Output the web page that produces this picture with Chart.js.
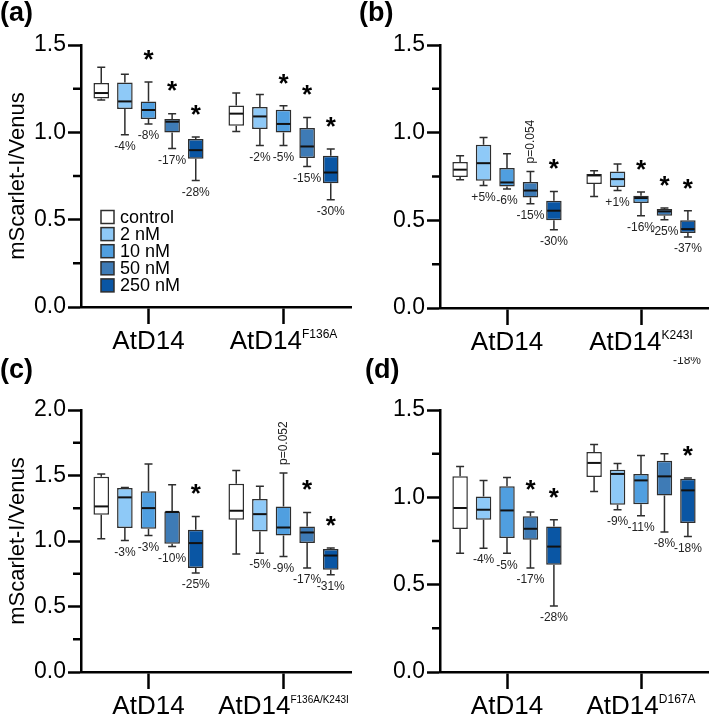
<!DOCTYPE html>
<html>
<head>
<meta charset="utf-8">
<script src="https://cdn.jsdelivr.net/npm/chart.js@4.4.1/dist/chart.umd.min.js"></script>
<style>
  html, body { margin: 0; padding: 0; background: #fff; }
  #wrap { position: relative; width: 709px; height: 714px; }
  canvas { position: absolute; }
</style>
</head>
<body>
<div id="wrap">
  <canvas id="pa" width="354" height="357" style="left:0;top:0"></canvas>
  <canvas id="pb" width="355" height="357" style="left:354px;top:0"></canvas>
  <canvas id="pc" width="354" height="357" style="left:0;top:357px"></canvas>
  <canvas id="pd" width="355" height="357" style="left:354px;top:357px"></canvas>
</div>
<script>
const FONT = "'Liberation Sans', Arial, Helvetica, sans-serif";

const doses = ["control", "2 nM", "10 nM", "50 nM", "250 nM"];
const doseColors = ["#ffffff", "#8ec9f7", "#509fe0", "#3e7bb6", "#0a56a4"];

// box stats for each dose: [min, q1, median, q3, max]
// (a) AtD14 vs AtD14 F136A
const aWT = [
  [1.185, 1.193, 1.225, 1.283, 1.372],
  [0.986, 1.134, 1.177, 1.286, 1.332],
  [1.048, 1.076, 1.128, 1.177, 1.288],
  [0.908, 0.999, 1.061, 1.076, 1.107],
  [0.724, 0.849, 0.898, 0.962, 0.973]
];
const aMut = [
  [1.005, 1.038, 1.107, 1.154, 1.225],
  [0.925, 1.019, 1.091, 1.145, 1.216],
  [0.925, 0.999, 1.048, 1.130, 1.152],
  [0.805, 0.853, 0.919, 1.025, 1.085],
  [0.614, 0.709, 0.770, 0.866, 0.904]
];
const aPct = [["", "-4%", "-8%", "-17%", "-28%"], ["", "-2%", "-5%", "-15%", "-30%"]];
const aStar = [[0, 0, 1, 1, 1], [0, 0, 1, 1, 1]];
const aP = [["", "", "", "", ""], ["", "", "", "", ""]];

// (b) AtD14 vs AtD14 K243I
const bWT = [
  [0.731, 0.747, 0.789, 0.832, 0.868],
  [0.699, 0.726, 0.826, 0.931, 0.973],
  [0.678, 0.693, 0.716, 0.798, 0.880],
  [0.595, 0.630, 0.670, 0.718, 0.779],
  [0.447, 0.500, 0.555, 0.612, 0.665]
];
const bMut = [
  [0.636, 0.707, 0.756, 0.764, 0.783],
  [0.670, 0.690, 0.735, 0.779, 0.821],
  [0.526, 0.599, 0.627, 0.640, 0.661],
  [0.503, 0.526, 0.551, 0.564, 0.570],
  [0.405, 0.428, 0.450, 0.500, 0.555]
];
const bPct = [["", "+5%", "-6%", "-15%", "-30%"], ["", "+1%", "-16%", "-25%", "-37%"]];
const bStar = [[0, 0, 0, 0, 1], [0, 0, 1, 1, 1]];
const bP = [["", "", "", "p=0.054", ""], ["", "", "", "", ""]];

// (c) AtD14 vs AtD14 F136A/K243I
const cWT = [
  [1.017, 1.200, 1.264, 1.491, 1.511],
  [1.004, 1.099, 1.333, 1.404, 1.409],
  [1.042, 1.093, 1.251, 1.379, 1.588],
  [0.958, 0.979, 1.222, 1.226, 1.430],
  [0.755, 0.793, 0.984, 1.086, 1.187]
];
const cMut = [
  [0.900, 1.162, 1.231, 1.437, 1.539],
  [0.907, 1.073, 1.205, 1.320, 1.417],
  [0.882, 1.042, 1.103, 1.264, 1.519],
  [0.793, 0.984, 1.065, 1.111, 1.218],
  [0.742, 0.780, 0.889, 0.938, 0.946]
];
const cPct = [["", "-3%", "-3%", "-10%", "-25%"], ["", "-5%", "-9%", "-17%", "-31%"]];
const cStar = [[0, 0, 0, 0, 1], [0, 0, 0, 1, 1]];
const cP = [["", "", "", "", ""], ["", "", "p=0.052", "", ""]];

// (d) AtD14 vs AtD14 D167A
const dWT = [
  [0.680, 0.818, 0.939, 1.120, 1.177],
  [0.709, 0.872, 0.929, 1.005, 1.097],
  [0.680, 0.767, 0.925, 1.063, 1.114],
  [0.595, 0.757, 0.820, 0.891, 0.916],
  [0.378, 0.614, 0.718, 0.833, 0.872]
];
const dMut = [
  [1.034, 1.116, 1.197, 1.260, 1.302],
  [0.929, 0.958, 1.134, 1.158, 1.194],
  [0.895, 0.961, 1.097, 1.134, 1.240],
  [0.801, 1.011, 1.120, 1.210, 1.250],
  [0.776, 0.853, 1.040, 1.107, 1.111]
];
const dPct = [["", "-4%", "-5%", "-17%", "-28%"], ["", "-9%", "-11%", "-8%", "-18%"]];
const dStar = [[0, 0, 0, 1, 1], [0, 0, 0, 0, 1]];
const dP = [["", "", "", "", ""], ["", "", "", "", ""]];

const categories = ["AtD14", "AtD14"];
const aSup = ["", "F136A"];
const bSup = ["", "K243I"];
const cSup = ["", "F136A/K243I"];
const dSup = ["", "D167A"];

function extras(cfg) {
  return {
    id: "boxExtras",
    afterDatasetsDraw(chart) {
      const ctx = chart.ctx;
      const ys = chart.scales.y;
      ctx.save();
      chart.data.datasets.forEach((ds, i) => {
        chart.getDatasetMeta(i).data.forEach((bar, j) => {
          const [mn, q1, md, q3, mx] = ds.stats[j];
          const x = bar.x, hw = bar.width / 2, cw = 4;
          const pMin = ys.getPixelForValue(mn), pQ1 = ys.getPixelForValue(q1);
          const pMed = ys.getPixelForValue(md), pQ3 = ys.getPixelForValue(q3);
          const pMax = ys.getPixelForValue(mx);
          ctx.strokeStyle = "#2e2e2e";
          ctx.lineWidth = 1.5;
          ctx.beginPath();
          ctx.moveTo(x, pQ3); ctx.lineTo(x, pMax);
          ctx.moveTo(x - cw, pMax); ctx.lineTo(x + cw, pMax);
          ctx.moveTo(x, pQ1); ctx.lineTo(x, pMin);
          ctx.moveTo(x - cw, pMin); ctx.lineTo(x + cw, pMin);
          ctx.stroke();
          ctx.strokeStyle = "#111";
          ctx.lineWidth = 2;
          ctx.beginPath();
          ctx.moveTo(x - hw + 1, pMed); ctx.lineTo(x + hw - 1, pMed);
          ctx.stroke();

          ctx.fillStyle = "#222";
          ctx.font = "12px " + FONT;
          ctx.textAlign = "center";
          ctx.textBaseline = "middle";
          if (ds.pct[j]) ctx.fillText(ds.pct[j], x, pMin + 12);
          if (ds.star[j]) {
            ctx.font = "bold 26px " + FONT;
            const m = ctx.measureText("*");
            ctx.textBaseline = "alphabetic";
            const c = pMax - 20;
            ctx.fillStyle = "#000";
            ctx.fillText("*", x, c + (m.actualBoundingBoxAscent - m.actualBoundingBoxDescent) / 2);
          }
          if (ds.pval[j]) {
            ctx.save();
            ctx.translate(x, pMax - 8);
            ctx.rotate(-Math.PI / 2);
            ctx.font = "12px " + FONT;
            ctx.textAlign = "left";
            ctx.textBaseline = "middle";
            ctx.fillStyle = "#222";
            ctx.fillText(ds.pval[j], 0, 0);
            ctx.restore();
          }
        });
      });
      ctx.restore();
    },
    afterDraw(chart) {
      const ctx = chart.ctx;
      const ys = chart.scales.y, xs = chart.scales.x;
      const area = chart.chartArea;
      ctx.save();
      // minor ticks
      ctx.strokeStyle = "#000";
      ctx.lineWidth = 2.5;
      ctx.beginPath();
      for (let v = 0.25; v < cfg.yMax; v += 0.5) {
        const py = ys.getPixelForValue(v);
        ctx.moveTo(area.left - 8, py); ctx.lineTo(area.left, py);
      }
      ctx.stroke();
      // category labels with superscripts
      ctx.fillStyle = "#000";
      ctx.textBaseline = "alphabetic";
      ctx.textAlign = "left";
      chart.data.labels.forEach((lab, i) => {
        const cx = xs.getPixelForValue(i);
        ctx.font = "26px " + FONT;
        const w1 = ctx.measureText(lab).width;
        ctx.font = cfg.supSize + "px " + FONT;
        const w2 = cfg.sups[i] ? ctx.measureText(cfg.sups[i]).width : 0;
        const x0 = cx - (w1 + w2) / 2;
        const base = area.bottom + 42;
        ctx.font = "26px " + FONT;
        ctx.fillText(lab, x0, base);
        if (cfg.sups[i]) {
          ctx.font = cfg.supSize + "px " + FONT;
          ctx.fillText(cfg.sups[i], x0 + w1, base - 11);
        }
      });
      // panel tag
      ctx.font = "bold 27px " + FONT;
      ctx.textBaseline = "middle";
      ctx.fillText(cfg.tag, cfg.tagX, 14);
      // legend
      if (cfg.legend) {
        chart.data.datasets.forEach((ds, i) => {
          const ly = area.top + 172 + i * 17.1;
          ctx.fillStyle = ds.backgroundColor;
          ctx.fillRect(area.left + 20, ly - 6.5, 13, 13);
          ctx.strokeStyle = "#2e2e2e";
          ctx.lineWidth = 1.5;
          ctx.strokeRect(area.left + 20, ly - 6.5, 13, 13);
          ctx.fillStyle = "#000";
          ctx.font = "18px " + FONT;
          ctx.textBaseline = "middle";
          ctx.fillText(ds.label, area.left + 39, ly + 1);
        });
      }
      if (cfg.note) {
        ctx.font = "12px " + FONT;
        ctx.fillStyle = "#222";
        ctx.textAlign = "center";
        ctx.textBaseline = "middle";
        ctx.fillText(cfg.note, cfg.noteX, cfg.noteY);
      }
      ctx.restore();
    }
  };
}

function makeChart(id, cfg) {
  const groups = [cfg.wt, cfg.mut];
  const datasets = doses.map((dose, d) => ({
    label: dose,
    data: groups.map(g => [g[d][1], g[d][3]]),
    stats: groups.map(g => g[d]),
    pct: cfg.pct.map(p => p[d]),
    star: cfg.star.map(s => s[d]),
    pval: cfg.pval.map(p => p[d]),
    backgroundColor: doseColors[d],
    borderColor: "#2e2e2e",
    borderWidth: 1.5,
    borderSkipped: false,
    categoryPercentage: 0.875,
    barPercentage: 0.66
  }));
  return new Chart(document.getElementById(id), {
    type: "bar",
    data: { labels: categories, datasets: datasets },
    options: {
      responsive: false,
      animation: false,
      layout: { padding: { top: cfg.top, right: cfg.right, left: 0, bottom: 0 } },
      plugins: { legend: { display: false }, tooltip: { enabled: false } },
      scales: {
        x: {
          grid: { offset: false, drawOnChartArea: false, color: "#000", tickLength: 17, tickWidth: 2.5 },
          border: { color: "#000", width: 2.5 },
          ticks: { display: false },
          afterFit: (s) => { s.height = cfg.xh; }
        },
        y: {
          min: 0,
          max: cfg.yMax,
          ticks: {
            stepSize: 0.5,
            color: "#000",
            padding: 2,
            font: { family: FONT, size: 23 },
            callback: (v) => v.toFixed(1)
          },
          grid: { drawOnChartArea: false, color: "#000", tickLength: 13, tickWidth: 2.5 },
          border: { color: "#000", width: 2.5 },
          title: {
            display: !!cfg.yTitle,
            text: cfg.yTitle || "",
            color: "#000",
            font: { family: FONT, size: 22 },
            padding: { top: 5, bottom: 0 }
          },
          afterFit: (s) => { s.width = cfg.left; }
        }
      }
    },
    plugins: [extras(cfg)]
  });
}

makeChart("pa", {
  wt: aWT, mut: aMut, pct: aPct, star: aStar, pval: aP, sups: aSup, supSize: 12,
  yMax: 1.5, left: 81, right: 3, top: 45, xh: 50, yTitle: "mScarlet-I/Venus",
  tag: "(a)", tagX: 0, legend: true
});
makeChart("pb", {
  wt: bWT, mut: bMut, pct: bPct, star: bStar, pval: bP, sups: bSup, supSize: 12,
  yMax: 1.5, left: 86, right: 1, top: 45, xh: 49,
  tag: "(b)", tagX: 5
});
makeChart("pc", {
  wt: cWT, mut: cMut, pct: cPct, star: cStar, pval: cP, sups: cSup, supSize: 10,
  yMax: 2.0, left: 81, right: 3, top: 53, xh: 42, yTitle: "mScarlet-I/Venus",
  tag: "(c)", tagX: 0
});
makeChart("pd", {
  wt: dWT, mut: dMut, pct: dPct, star: dStar, pval: dP, sups: dSup, supSize: 12,
  yMax: 1.5, left: 86, right: 1, top: 53, xh: 42,
  tag: "(d)", tagX: 11, note: "-18%", noteX: 333, noteY: 4
});
</script>
</body>
</html>
